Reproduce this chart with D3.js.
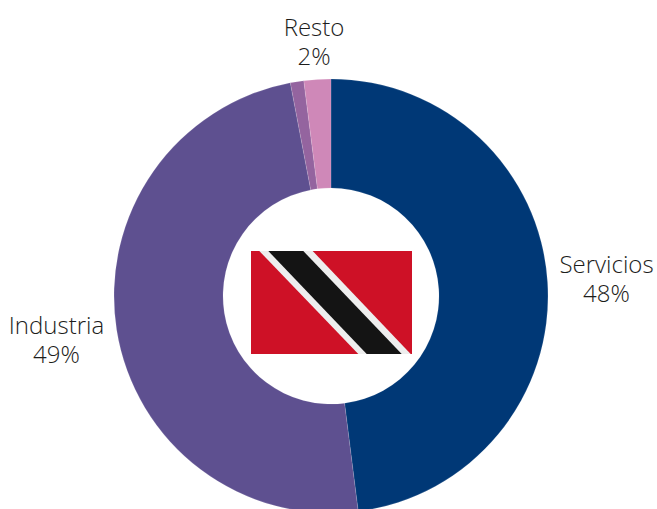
<!DOCTYPE html>
<html><head><meta charset="utf-8">
<script src="https://cdn.jsdelivr.net/npm/d3@7"></script>
<style>html,body{margin:0;padding:0;background:#fff}svg{display:block}text{font-family:"Open Sans",sans-serif;font-weight:300;fill:#1d1d1b;font-size:24px;text-anchor:middle}</style>
</head><body><script>
const categories = ["Servicios","Industria","Otros","Resto"];
const values = [48,49,1,2];
const colors = ["#003876","#5e5090","#94649f","#cf88b8"];
const labels = [{name:"Servicios",pct:"48%",x:606.5,y:273},{name:"Industria",pct:"49%",x:56.5,y:334},{name:"Resto",pct:"2%",x:314,y:36}];

const W=657,H=509,cx=331,cy=296,rO=217,rI=108;
const svg=d3.select("body").append("svg").attr("width",W).attr("height",H);
const pie=d3.pie().sort(null).value(d=>d.v);
const arc=d3.arc().innerRadius(rI).outerRadius(rO);
const data=categories.map((c,i)=>({c,v:values[i],col:colors[i]}));
svg.append("g").attr("transform",`translate(${cx},${cy})`)
  .selectAll("path").data(pie(data)).join("path")
  .attr("d",arc).attr("fill",d=>d.data.col)
  .attr("stroke","#fff").attr("stroke-opacity",0.25).attr("stroke-width",0.5);

// flag
const fx=251,fy=251,fw=161,fh=103;
const defs=svg.append("defs");
defs.append("clipPath").attr("id","fc").append("rect").attr("x",fx).attr("y",fy).attr("width",fw).attr("height",fh);
const f=svg.append("g").attr("clip-path","url(#fc)");
f.append("rect").attr("x",fx).attr("y",fy).attr("width",fw).attr("height",fh).attr("fill","#ce1126");
const band=(a,b,c,d,col)=>f.append("polygon").attr("points",`${a},${fy} ${b},${fy} ${d},${fy+fh} ${c},${fy+fh}`).attr("fill",col);
band(259.3,312.7,358.3,410.7,"#eeeeee");
band(268.3,303.3,366.7,401.7,"#141414");

const t=svg.selectAll("g.l").data(labels).join("g").attr("class","l");
t.append("text").attr("x",d=>d.x).attr("y",d=>d.y).text(d=>d.name);
t.append("text").attr("x",d=>d.x).attr("y",d=>d.y+29).text(d=>d.pct);
</script></body></html>
